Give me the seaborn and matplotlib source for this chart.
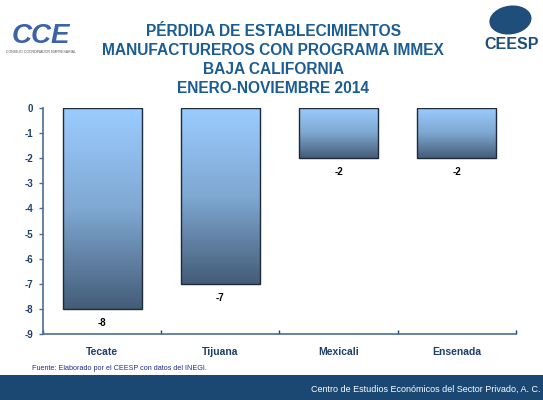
import numpy as np
import pandas as pd
import matplotlib
matplotlib.use("Agg")
import matplotlib.pyplot as plt
import seaborn as sns
from matplotlib.colors import LinearSegmentedColormap
from matplotlib.patches import Rectangle, Ellipse

# chart data
municipios = ["Tecate", "Tijuana", "Mexicali", "Ensenada"]
perdida = [-8, -7, -2, -2]
y_ticks = [0, -1, -2, -3, -4, -5, -6, -7, -8, -9]

titulo = ("PÉRDIDA DE ESTABLECIMIENTOS\n"
          "MANUFACTUREROS CON PROGRAMA IMMEX\n"
          "BAJA CALIFORNIA\n"
          "ENERO-NOVIEMBRE 2014")
fuente = "Fuente: Elaborado por el CEESP con datos del INEGI."
pie = "Centro de Estudios Económicos del Sector Privado, A. C."

sns.set_theme(style="white")
plt.rcParams['font.family'] = ['Liberation Sans', 'DejaVu Sans']

navy = "#1F3F6B"
title_blue = "#1A5C93"

df = pd.DataFrame({"municipio": municipios, "valor": perdida})

fig = plt.figure(figsize=(5.43, 4.0), dpi=100)
ax = fig.add_axes([0.0792, 0.165, 0.871, 0.565])

sns.barplot(data=df, x="municipio", y="valor", ax=ax, width=0.67,
            color="#7FA8D0", edgecolor="#1E2A38", linewidth=1.0)

# gradient fill clipped to each bar
cmap = LinearSegmentedColormap.from_list("barra", ["#9BCCFF", "#7FA8D2", "#445C78"])
grad = np.linspace(0, 1, 256).reshape(-1, 1)
for p in ax.patches:
    x0, y0 = p.get_x(), p.get_y()
    w, h = p.get_width(), p.get_height()
    top, bot = max(y0, y0 + h), min(y0, y0 + h)
    p.set_facecolor("none")
    im = ax.imshow(grad, cmap=cmap, aspect="auto", extent=[x0, x0 + w, bot, top],
                   origin="upper", zorder=p.get_zorder() - 0.1)
    im.set_clip_path(p)
    p.set_zorder(3)

ax.set_xlim(-0.5, 3.5)
ax.set_ylim(-9, 0)
ax.set_yticks(y_ticks)
ax.set_yticklabels([str(v) for v in y_ticks], fontsize=7, fontweight="bold", color=navy)
ax.set_xticks([-0.5, 0.5, 1.5, 2.5, 3.5])
ax.set_xticklabels([])
ax.set_xlabel("")
ax.set_ylabel("")
for i, m in enumerate(municipios):
    ax.text(i, -9.5, m, ha="center", va="top", fontsize=7.5, fontweight="bold", color=navy)

for i, v in enumerate(perdida):
    ax.text(i, v - 0.35, str(v), ha="center", va="top", fontsize=7, fontweight="bold", color="black")

sns.despine(ax=ax, top=True, right=True)
for side in ["left", "bottom"]:
    ax.spines[side].set_color("#4A6E94")
    ax.spines[side].set_linewidth(1.2)
ax.tick_params(axis="y", left=True, length=3, width=1, color="#4A6E94", pad=4)
ax.tick_params(axis="x", bottom=True, length=3, width=1, color="#1F3F6B", direction="in")

fig.text(0.503, 0.94, titulo, ha="center", va="top", fontsize=11.2, fontweight="bold",
         color=title_blue, linespacing=1.33)

# logos approximated with text and shapes
fig.text(0.075, 0.91, "CCE", ha="center", va="center", fontsize=20, fontweight="bold",
         style="italic", color="#3B63A8")
fig.text(0.075, 0.87, "CONSEJO COORDINADOR EMPRESARIAL", ha="center", va="center",
         fontsize=2.5, color="#555555")
fig.patches.append(Ellipse((0.94, 0.95), 0.08, 0.07, angle=30, transform=fig.transFigure,
                           facecolor="#1F4E7A", edgecolor="none"))
fig.text(0.943, 0.888, "CEESP", ha="center", va="center", fontsize=11.5, fontweight="bold",
         color="#1F4E7A")

fig.text(0.059, 0.08, fuente, ha="left", va="center", fontsize=5.2, color="#1F2F8F")

fig.patches.append(Rectangle((0, 0), 1, 0.0625, transform=fig.transFigure,
                             facecolor="#1B4872", edgecolor="none"))
fig.text(0.995, 0.026, pie, ha="right", va="center", fontsize=6.5, color="white")

fig.savefig("out.png", dpi=100)
